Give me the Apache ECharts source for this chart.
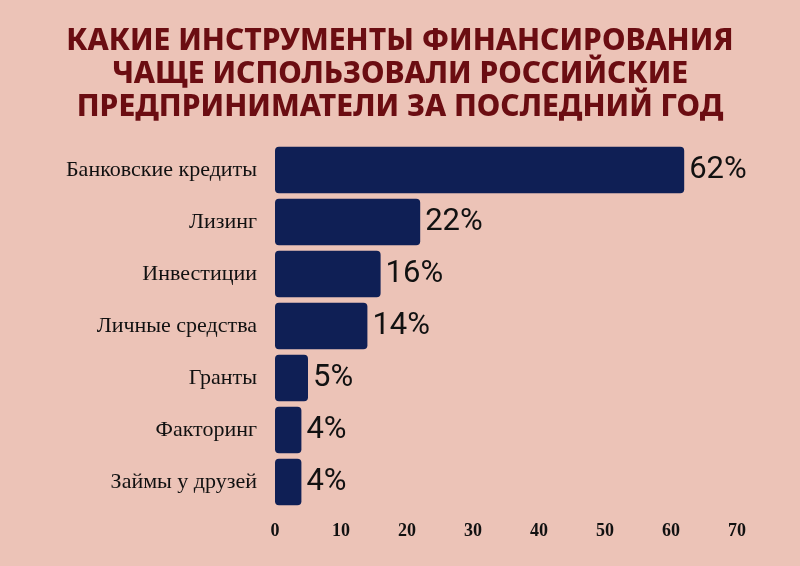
<!DOCTYPE html>
<html><head><meta charset="utf-8">
<script src="https://cdn.jsdelivr.net/npm/echarts@6/dist/echarts.min.js"></script>
<style>html,body{margin:0;padding:0;background:#ecc3b7;}#c{width:800px;height:566px;}</style>
</head><body><div id="c"></div>
<script>
const titleLines = ['КАКИЕ ИНСТРУМЕНТЫ ФИНАНСИРОВАНИЯ', 'ЧАЩЕ ИСПОЛЬЗОВАЛИ РОССИЙСКИЕ', 'ПРЕДПРИНИМАТЕЛИ ЗА ПОСЛЕДНИЙ ГОД'];
const categories = ['Банковские кредиты', 'Лизинг', 'Инвестиции', 'Личные средства', 'Гранты', 'Факторинг', 'Займы у друзей'];
const values = [62, 22, 16, 14, 5, 4, 4];
const axisTicks = [0, 10, 20, 30, 40, 50, 60, 70];

const chart = echarts.init(document.getElementById('c'));
chart.setOption({
  backgroundColor: '#ecc3b7',
  animation: false,
  title: {
    text: titleLines.join('\n'),
    left: 'center', top: 20,
    textStyle: { fontFamily: '"Noto Sans", sans-serif', fontWeight: 800, fontSize: 30, color: '#6b0d12', lineHeight: 33 }
  },
  grid: { left: 275, right: 63, top: 144, bottom: 58 },
  xAxis: {
    type: 'value', min: axisTicks[0], max: axisTicks[axisTicks.length - 1], interval: 10,
    splitLine: { show: false }, axisLine: { show: false }, axisTick: { show: false },
    axisLabel: { fontFamily: '"Liberation Serif", serif', fontWeight: 'bold', fontSize: 18, color: '#111', margin: 14 }
  },
  yAxis: {
    type: 'category', data: categories, inverse: true,
    axisLine: { show: false }, axisTick: { show: false },
    axisLabel: { fontFamily: '"Liberation Serif", serif', fontSize: 22, color: '#111', margin: 18 }
  },
  series: [{
    type: 'bar', data: values, barCategoryGap: '11%',
    itemStyle: { color: '#0f1f55', borderRadius: 4 },
    label: { show: true, position: 'right', distance: 5, formatter: '{c}%',
      fontFamily: 'Roboto, sans-serif', fontSize: 31, color: '#111' }
  }]
});
</script></body></html>
